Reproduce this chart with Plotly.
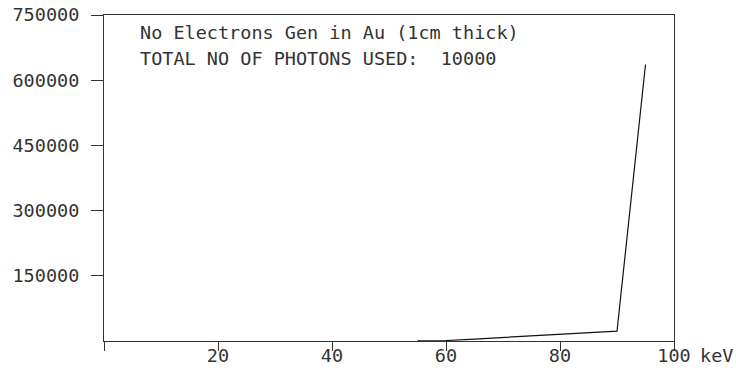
import plotly.graph_objects as go

# Photon energy (keV) and number of electrons generated
energy_kev = [55, 60, 65, 70, 75, 80, 85, 90, 95]
electrons = [300, 1200, 4500, 8000, 11500, 15000, 18500, 22500, 636000]

x_ticks = [0, 20, 40, 60, 80, 100]
x_tick_text = ["", "20", "40", "60", "80", "100"]
y_ticks = [150000, 300000, 450000, 600000, 750000]
y_tick_text = ["150000", "300000", "450000", "600000", "750000"]

title_lines = ["No Electrons Gen in Au (1cm thick)",
               "TOTAL NO OF PHOTONS USED:  10000"]
x_unit = "keV"

font_mono = "DejaVu Sans Mono"
axis_col = "#333333"
text_col = "#333333"
fsize = 18.5

fig = go.Figure()
fig.add_trace(go.Scatter(
    x=energy_kev, y=electrons, mode="lines",
    line=dict(color="#111111", width=1.2),
    showlegend=False, hoverinfo="skip",
))

fig.update_xaxes(
    range=[0, 100], tickvals=x_ticks, ticktext=x_tick_text,
    ticks="outside", ticklen=9, tickwidth=1, tickcolor=axis_col,
    ticklabelstandoff=-11,
    showline=True, linecolor=axis_col, linewidth=1, mirror=True,
    showgrid=False, zeroline=False, automargin=False,
    tickfont=dict(family=font_mono, size=fsize, color=text_col),
)
fig.update_yaxes(
    range=[0, 750000], tickvals=y_ticks, ticktext=y_tick_text,
    ticks="outside", ticklen=12, tickwidth=1, tickcolor=axis_col,
    ticklabelstandoff=8,
    showline=True, linecolor=axis_col, linewidth=1, mirror=True,
    showgrid=False, zeroline=False, automargin=False,
    tickfont=dict(family=font_mono, size=fsize, color=text_col),
)

for i, line in enumerate(title_lines):
    fig.add_annotation(
        text=line, xref="paper", yref="paper", x=0.06, y=1 - i * 0.08,
        xanchor="left", yanchor="top", showarrow=False,
        font=dict(family=font_mono, size=fsize, color=text_col),
        yshift=-5,
    )

fig.add_annotation(
    text=x_unit, xref="paper", yref="paper", x=1.0, y=0,
    xanchor="left", yanchor="top", showarrow=False,
    xshift=24, yshift=-2,
    font=dict(family=font_mono, size=fsize, color=text_col),
)

fig.update_layout(
    width=736, height=370,
    margin=dict(l=104, r=62, t=15, b=29),
    paper_bgcolor="white", plot_bgcolor="white",
)

fig.write_html("out.html")
